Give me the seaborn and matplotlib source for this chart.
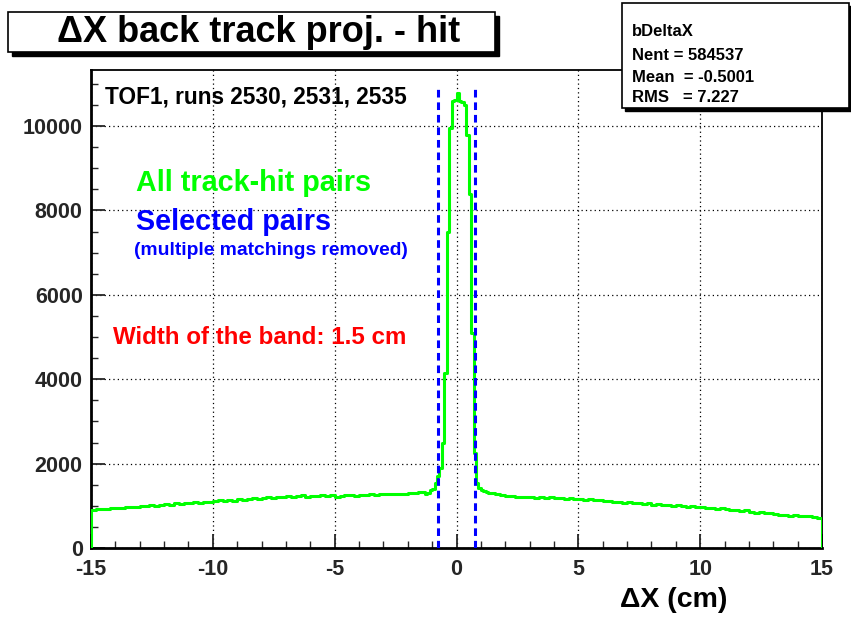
import numpy as np
import pandas as pd
import matplotlib
matplotlib.use("Agg")
import matplotlib.pyplot as plt
from matplotlib.patches import Rectangle
from matplotlib.ticker import MultipleLocator
import seaborn as sns

# ---------------- data ----------------
# background, left side: 0.2 cm bins from -15 to -1.4
left_counts = [900, 915, 930, 925, 940, 950, 945, 960, 975, 970,
               985, 1000, 1020, 990, 1010, 1040, 1030, 1055, 1045, 1070,
               1060, 1080, 1075, 1100, 1090, 1115, 1130, 1110, 1135, 1125,
               1150, 1140, 1165, 1175, 1155, 1180, 1205, 1190, 1215, 1200,
               1225, 1210, 1235, 1260, 1215, 1240, 1225, 1255, 1240, 1250,
               1215, 1235, 1245, 1260, 1230, 1265, 1250, 1270, 1265, 1280,
               1275, 1285, 1270, 1290, 1275, 1310, 1295, 1320]
# peak region: 0.1 cm bins from -1.4 to 1.4
peak_counts = [1320, 1290, 1300, 1370, 1400, 1540, 1700, 1900, 2500, 4150,
               7500, 9950, 10600, 10620, 10780, 10600, 10580, 10500, 9800, 8400,
               5100, 2250, 1540, 1420, 1380, 1360, 1330, 1310]
# background, right side: 0.2 cm bins from 1.4 to 15
right_counts = [1300, 1280, 1250, 1235, 1240, 1210, 1220, 1200, 1215, 1195,
                1205, 1185, 1200, 1180, 1190, 1165, 1175, 1155, 1160, 1140,
                1150, 1130, 1140, 1115, 1125, 1100, 1085, 1070, 1080, 1060,
                1070, 1045, 1055, 1030, 1040, 1020, 1030, 1005, 1015, 990,
                980, 990, 960, 970, 950, 955, 930, 940, 915, 900,
                910, 880, 895, 850, 840, 845, 825, 830, 810, 780,
                790, 770, 780, 760, 750, 755, 735, 720]
band_edges = [-0.75, 0.75]

x_ticks = [-15, -10, -5, 0, 5, 10, 15]
y_ticks = [0, 2000, 4000, 6000, 8000, 10000]

edges = np.concatenate([
    np.linspace(-15, -1.4, len(left_counts) + 1)[:-1],
    np.linspace(-1.4, 1.4, len(peak_counts) + 1)[:-1],
    np.linspace(1.4, 15, len(right_counts) + 1),
])
counts = np.array(left_counts + peak_counts + right_counts, dtype=float)
centers = 0.5 * (edges[:-1] + edges[1:])
df = pd.DataFrame({"dx": centers, "n": counts})

# ---------------- style ----------------
sns.set_style("white")
plt.rcParams["font.family"] = ["Liberation Sans", "DejaVu Sans"]
plt.rcParams["font.weight"] = "bold"

W, H = 851, 617
fig = plt.figure(figsize=(W / 100, H / 100), dpi=100)
ax = fig.add_axes([91 / W, 1 - 548 / H, (822 - 91) / W, (548 - 70) / H])

GREEN = "#00ff00"
BLUE = "#0000ff"
RED = "#ff0000"

sns.histplot(data=df, x="dx", weights="n", bins=[float(e) for e in edges],
             element="step", fill=False, color=GREEN, linewidth=2.2, ax=ax,
             zorder=3)
# drops to zero at the range edges (as ROOT draws them)
ax.plot([edges[0], edges[0]], [0, counts[0]], color=GREEN, lw=2.2, zorder=3)
ax.plot([edges[-1], edges[-1]], [0, counts[-1]], color=GREEN, lw=2.2, zorder=3)

for b in band_edges:
    ax.axvline(b, ymin=0, ymax=0.962, color=BLUE, lw=2.2,
               linestyle=(0, (2.5, 1.6)), zorder=4)

ax.set_xlim(-15, 15)
ax.set_ylim(0, 11330)
ax.set_xlabel("")
ax.set_ylabel("")

ax.set_xticks(x_ticks)
ax.set_yticks(y_ticks)
ax.xaxis.set_minor_locator(MultipleLocator(1))
ax.yaxis.set_minor_locator(MultipleLocator(500))
ax.set_xticklabels([str(v) for v in x_ticks], fontsize=15.5, fontweight="bold")
ax.set_yticklabels([str(v) for v in y_ticks], fontsize=15.5, fontweight="bold")
ax.tick_params(axis="x", which="major", direction="in", length=10, width=1.3,
               pad=8, bottom=True, top=False)
ax.tick_params(axis="x", which="minor", direction="in", length=5, width=1.0,
               bottom=True, top=False)
ax.tick_params(axis="y", which="major", direction="in", length=10, width=1.3,
               pad=6, left=True, right=False)
ax.tick_params(axis="y", which="minor", direction="in", length=5, width=1.0,
               left=True, right=False)

ax.grid(True, which="major", color="black", linestyle=(0, (1, 2.5)), linewidth=0.9)
ax.set_axisbelow(True)
for s in ax.spines.values():
    s.set_visible(True)
    s.set_color("black")
    s.set_linewidth(1.3)
ax.spines["bottom"].set_linewidth(2.0)
ax.spines["left"].set_linewidth(2.0)

def fx(px):
    return px / W

def fy(py):
    return 1 - py / H

# annotations
fig.text(fx(105), fy(97), "TOF1, runs 2530, 2531, 2535", fontsize=16.3,
         fontweight="bold", color="black", va="center", ha="left")
fig.text(fx(136), fy(183), "All track-hit pairs", fontsize=20.7,
         fontweight="bold", color=GREEN, va="center", ha="left")
fig.text(fx(136), fy(222), "Selected pairs", fontsize=20.7,
         fontweight="bold", color=BLUE, va="center", ha="left")
fig.text(fx(134), fy(251), "(multiple matchings removed)", fontsize=13.9,
         fontweight="bold", color=BLUE, va="center", ha="left")
fig.text(fx(113), fy(338), "Width of the band: 1.5 cm", fontsize=17.4,
         fontweight="bold", color=RED, va="center", ha="left")

# x-axis title
fig.text(fx(727), fy(600), "\u0394X (cm)", fontsize=20.5, fontweight="bold",
         color="black", va="center", ha="right")

# title box with shadow
fig.patches.append(Rectangle((fx(12), fy(56)), (495 - 8) / W, (52 - 12) / H,
                             transform=fig.transFigure, facecolor="black",
                             edgecolor="black", lw=1, zorder=5))
fig.patches.append(Rectangle((fx(8), fy(52)), (495 - 8) / W, (52 - 12) / H,
                             transform=fig.transFigure, facecolor="white",
                             edgecolor="black", lw=1.2, zorder=6))
fig.text(fx(259), fy(33), "\u0394X back track proj. - hit", fontsize=26,
         fontweight="bold", color="black", va="center", ha="center", zorder=7)

# stats box with shadow
fig.patches.append(Rectangle((fx(625), fy(111)), (851 - 622) / W, (108 - 3) / H,
                             transform=fig.transFigure, facecolor="black",
                             edgecolor="black", lw=1, zorder=5))
fig.patches.append(Rectangle((fx(622), fy(108)), (849 - 622) / W, (108 - 3) / H,
                             transform=fig.transFigure, facecolor="white",
                             edgecolor="black", lw=1.2, zorder=6))
stats = [("bDeltaX", 31), ("Nent = 584537", 55), ("Mean  = -0.5001", 77),
         ("RMS   = 7.227", 97)]
for txt, py in stats:
    fig.text(fx(632), fy(py), txt, fontsize=12, fontweight="bold",
             color="black", va="center", ha="left", zorder=7)

fig.savefig("out.png", dpi=100)
